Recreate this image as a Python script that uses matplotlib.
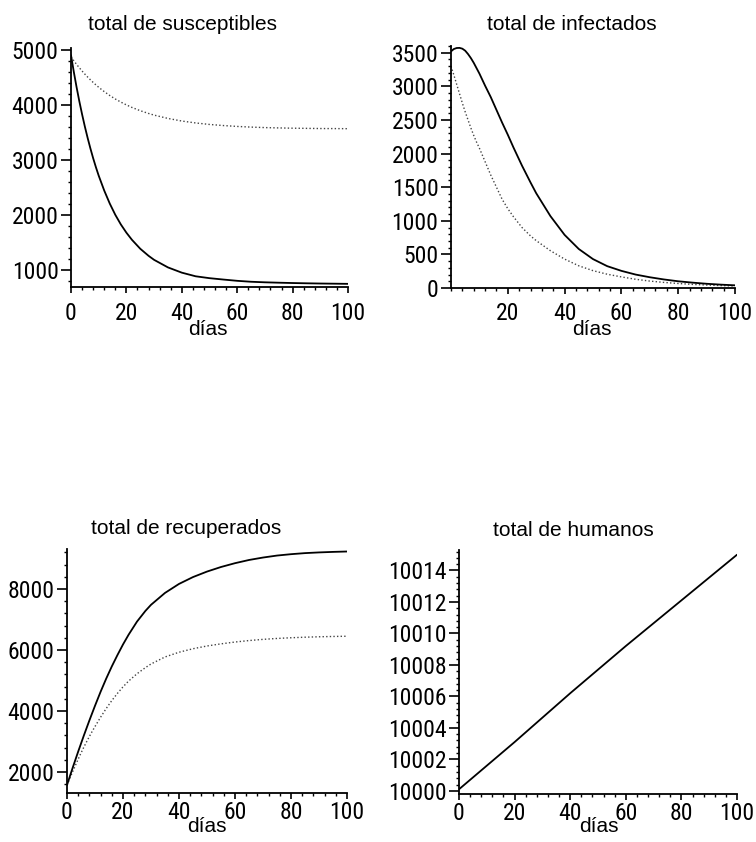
import matplotlib
matplotlib.use("Agg")
import matplotlib.pyplot as plt
from matplotlib.ticker import MultipleLocator, FixedLocator
from matplotlib.font_manager import FontProperties

# ---------------- data ----------------
days = [0, 1, 2, 3, 4, 5, 6, 7, 8, 9, 10, 12, 14, 16, 18, 20, 22, 25, 28, 30,
        35, 40, 45, 50, 55, 60, 65, 70, 75, 80, 85, 90, 95, 100]

sus_solid = [4900, 4601, 4324, 4066, 3829, 3607, 3402, 3211, 3033, 2869, 2717,
             2447, 2211, 2007, 1833, 1684, 1555, 1393, 1265, 1192, 1055, 960,
             894, 860, 835, 812, 795, 785, 778, 772, 767, 763, 760, 757]
sus_dot = [4870, 4800, 4734, 4672, 4613, 4557, 4504, 4454, 4406, 4361, 4318,
           4240, 4169, 4106, 4050, 3999, 3953, 3894, 3844, 3814, 3754, 3707,
           3672, 3645, 3625, 3609, 3597, 3588, 3582, 3577, 3574, 3571, 3570, 3568]

inf_solid = [3520, 3555, 3570, 3572, 3560, 3530, 3480, 3420, 3350, 3270, 3190,
             3010, 2840, 2650, 2460, 2280, 2090, 1820, 1570, 1410, 1070, 790,
             580, 430, 325, 255, 200, 160, 127, 100, 80, 63, 50, 40]
inf_dot = [3300, 3170, 3030, 2890, 2750, 2620, 2500, 2380, 2270, 2170, 2080,
           1880, 1680, 1500, 1320, 1180, 1060, 900, 775, 705, 555, 430,
           330, 258, 205, 165, 130, 103, 83, 67, 54, 44, 36, 30]

rec_solid = [1570, 1850, 2130, 2400, 2670, 2930, 3190, 3440, 3690, 3930, 4170,
             4630, 5060, 5460, 5830, 6180, 6500, 6930, 7280, 7480, 7870, 8165,
             8390, 8570, 8720, 8845, 8950, 9030, 9095, 9140, 9175, 9198, 9215, 9228]
rec_dot = [1570, 1790, 2005, 2215, 2420, 2620, 2810, 2990, 3165, 3330, 3490,
           3795, 4080, 4340, 4575, 4790, 4980, 5220, 5420, 5540, 5770, 5925,
           6040, 6130, 6200, 6260, 6308, 6347, 6377, 6400, 6418, 6432, 6442, 6450]

hum_days = [0, 20, 40, 60, 80, 100]
hum_total = [10000.1, 10003.1, 10006.2, 10009.2, 10012.1, 10015.0]

titles = ["total de susceptibles", "total de infectados",
          "total de recuperados", "total de humanos"]
xlabel = "días"

W, H = 756, 842
fig = plt.figure(figsize=(W / 100, H / 100), dpi=100)
fig.patch.set_facecolor("white")

NARROW = ["Liberation Sans Narrow", "Roboto Condensed", "Noto Sans Condensed",
          "Open Sans Condensed", "DejaVu Sans Condensed", "Liberation Sans"]
REG = ["Liberation Sans", "DejaVu Sans"]
tickfont = FontProperties(family=NARROW, stretch="condensed", size=17)


def ax_at(x0, x1, ytop, ybot):
    return fig.add_axes([x0 / W, 1 - ybot / H, (x1 - x0) / W, (ybot - ytop) / H])


def style(ax, xt, yt, yminor, xpad):
    for s in ("top", "right"):
        ax.spines[s].set_visible(False)
    for s in ("left", "bottom"):
        ax.spines[s].set_linewidth(1.3)
        ax.spines[s].set_color("black")
    ax.xaxis.set_major_locator(FixedLocator(xt))
    ax.xaxis.set_minor_locator(MultipleLocator(4))
    ax.yaxis.set_major_locator(FixedLocator(yt))
    ax.yaxis.set_minor_locator(MultipleLocator(yminor))
    ax.set_yticklabels([str(v) for v in yt])
    ax.set_xticklabels([str(v) for v in xt])
    ax.tick_params(which="both", colors="black")
    ax.tick_params(axis="y", which="major", direction="out", length=7,
                   width=1.2, pad=2)
    ax.tick_params(axis="x", which="major", direction="out", length=4,
                   width=1.2, pad=xpad)
    ax.tick_params(which="minor", direction="out", length=2.5, width=1.0)
    for lab in ax.get_xticklabels() + ax.get_yticklabels():
        lab.set_fontproperties(tickfont)
    ax.set_facecolor("white")


solid_kw = dict(color="black", lw=1.3, solid_capstyle="round")
dot_kw = dict(color="#444444", lw=1.0, linestyle=(0, (1, 1.6)))

# Panel 1 - susceptibles
ax1 = ax_at(71, 348, 48, 287)
ax1.plot(days, sus_dot, **dot_kw)
ax1.plot(days, sus_solid, **solid_kw)
ax1.set_xlim(0, 100)
ax1.set_ylim(700, 5030)
style(ax1, [0, 20, 40, 60, 80, 100], [1000, 2000, 3000, 4000, 5000], 200, 7)

# Panel 2 - infectados
ax2 = ax_at(451, 735, 46, 288)
ax2.plot(days, inf_dot, **dot_kw)
ax2.plot(days, inf_solid, **solid_kw)
ax2.set_xlim(0, 100)
ax2.set_ylim(0, 3600)
style(ax2, [20, 40, 60, 80, 100],
      [0, 500, 1000, 1500, 2000, 2500, 3000, 3500], 100, 6)

# Panel 3 - recuperados
ax3 = ax_at(67, 347, 549, 793)
ax3.plot(days, rec_dot, **dot_kw)
ax3.plot(days, rec_solid, **solid_kw)
ax3.set_xlim(0, 100)
ax3.set_ylim(1310, 9310)
style(ax3, [0, 20, 40, 60, 80, 100], [2000, 4000, 6000, 8000], 400, 1.5)

# Panel 4 - humanos
ax4 = ax_at(459, 737, 550, 794)
ax4.plot(hum_days, hum_total, **solid_kw)
ax4.set_xlim(0, 100)
ax4.set_ylim(9999.8, 10015.3)
style(ax4, [0, 20, 40, 60, 80, 100],
      [10000, 10002, 10004, 10006, 10008, 10010, 10012, 10014], 0.4, 1.5)

# titles and axis labels
title_pos = [(182, 25), (572, 25), (186, 528), (573, 530)]
xlab_pos = [(208, 329), (592, 329), (207, 826), (599, 826)]
for t, (tx, ty) in zip(titles, title_pos):
    fig.text(tx / W, 1 - ty / H, t, ha="center", va="center",
             fontsize=15, family=REG, color="black")
for (lx, ly) in xlab_pos:
    fig.text(lx / W, 1 - ly / H, xlabel, ha="center", va="center",
             fontsize=15, family=REG, color="black")

fig.savefig("out.png", dpi=100, facecolor="white")
